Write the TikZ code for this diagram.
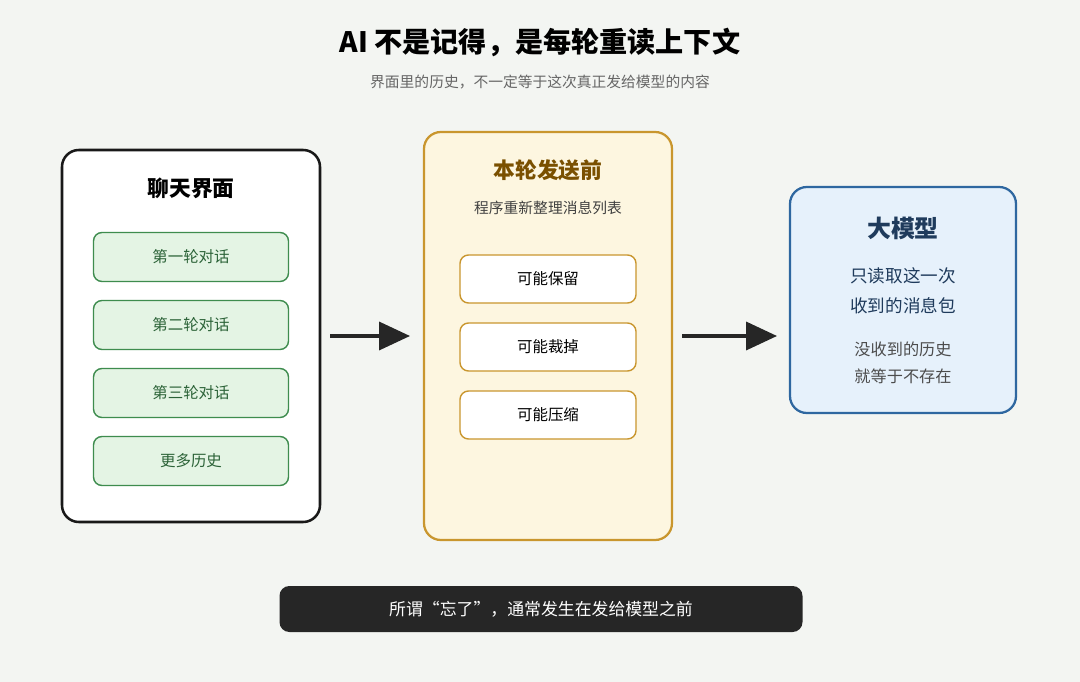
\documentclass[tikz,border=0pt]{standalone}
\usepackage{fontspec}
\setmainfont{Noto Sans CJK SC}
\usepackage{tikz}
\usetikzlibrary{arrows.meta,positioning}
\definecolor{bggray}{RGB}{243,245,242}
\definecolor{histgreen}{RGB}{62,140,78}
\definecolor{histfill}{RGB}{228,244,228}
\definecolor{sendgold}{RGB}{201,150,46}
\definecolor{sendfill}{RGB}{253,246,224}
\definecolor{sendbrown}{RGB}{122,80,0}
\definecolor{modelblue}{RGB}{46,103,160}
\definecolor{modelfill}{RGB}{230,241,251}
\definecolor{modelnavy}{RGB}{31,59,92}
\tikzset{
  histitem/.style={draw=histgreen, fill=histfill, line width=1pt, rounded corners=6pt,
    minimum width=195*0.025cm, minimum height=49*0.025cm, font=\fontsize{11}{13}\selectfont, text=histgreen!70!black},
  senditem/.style={draw=sendgold, fill=white, line width=1pt, rounded corners=6pt,
    minimum width=176*0.025cm, minimum height=48*0.025cm, font=\fontsize{11}{13}\selectfont},
  flow/.style={-{Triangle[length=22pt,width=20pt]}, line width=2.2pt, draw=black!85}
}
\begin{document}
\begin{tikzpicture}[x=0.025cm, y=-0.025cm]
  \fill[bggray] (0,0) rectangle (1080,682);
  \useasboundingbox (0,0) rectangle (1080,682);

  % Heading
  \node (title) at (540,42) {\fontsize{20}{24}\selectfont\bfseries AI 不是记得，是每轮重读上下文};
  \node[text=black!60] (subtitle) at (540,82) {\fontsize{10.5}{12}\selectfont 界面里的历史，不一定等于这次真正发给模型的内容};

  % Chat panel
  \draw[line width=1.8pt, draw=black!90, fill=white, rounded corners=12pt] (62,150) rectangle (320,522);
  \node at (191,188) {\fontsize{15.5}{18}\selectfont\bfseries 聊天界面};
  \node[histitem] (h1) at (191,257) {第一轮对话};
  \node[histitem] (h2) at (191,325) {第二轮对话};
  \node[histitem] (h3) at (191,393) {第三轮对话};
  \node[histitem] (h4) at (191,461) {更多历史};

  % Send panel
  \draw[line width=1.6pt, draw=sendgold, fill=sendfill, rounded corners=12pt] (424,132) rectangle (672,540);
  \node at (548,170) {\fontsize{15.5}{18}\selectfont\bfseries\color{sendbrown} 本轮发送前};
  \node[text=black!75] at (548,208) {\fontsize{10.5}{12}\selectfont 程序重新整理消息列表};
  \node[senditem] (s1) at (548,279) {可能保留};
  \node[senditem] (s2) at (548,347) {可能裁掉};
  \node[senditem] (s3) at (548,415) {可能压缩};

  % Model panel
  \draw[line width=1.6pt, draw=modelblue, fill=modelfill, rounded corners=12pt] (790,187) rectangle (1016,413);
  \node at (903,228) {\fontsize{17}{20}\selectfont\bfseries\color{modelnavy} 大模型};
  \node[text=modelnavy, align=center, font=\fontsize{12.5}{21}\selectfont] at (903,291) {只读取这一次\\收到的消息包};
  \node[text=black!70, align=center, font=\fontsize{11.5}{19}\selectfont] at (903,363) {没收到的历史\\就等于不存在};

  % Arrows
  \coordinate (a1) at (330,336);
  \coordinate (b1) at (410,336);
  \coordinate (a2) at (682,336);
  \coordinate (b2) at (777,336);
  \draw[flow] (a1) -- (b1);
  \draw[flow] (a2) -- (b2);

  % Footer
  \node[fill=black!85, rounded corners=7pt, minimum width=523*0.025cm, minimum height=46*0.025cm,
    text=white] (footer) at (541,609) {\fontsize{12}{14}\selectfont 所谓“忘了”，通常发生在发给模型之前};
\end{tikzpicture}
\end{document}
